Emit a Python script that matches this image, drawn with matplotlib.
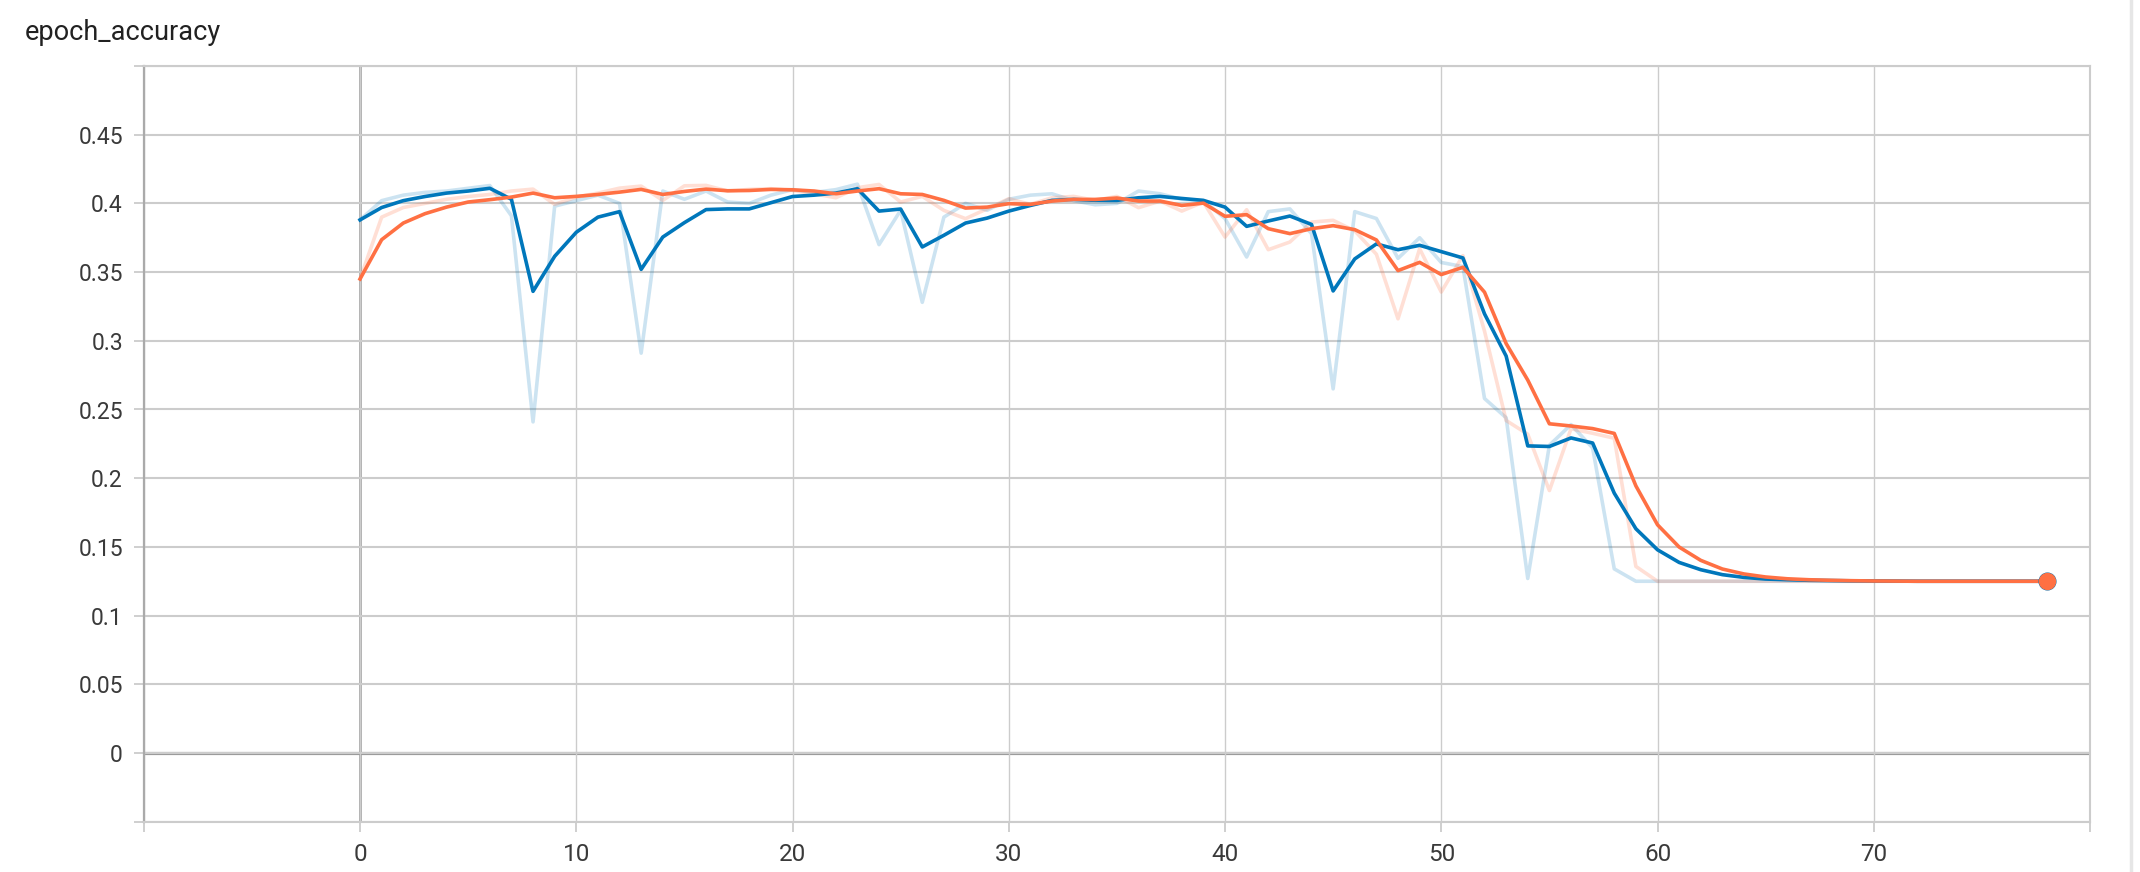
import matplotlib
matplotlib.use("Agg")
import matplotlib.pyplot as plt
from matplotlib.lines import Line2D
from matplotlib.patches import Circle

steps = list(range(79))

blue_raw = [0.388, 0.402, 0.406, 0.408, 0.409, 0.411, 0.413, 0.391, 0.241, 0.398,
            0.402, 0.406, 0.400, 0.291, 0.409, 0.403, 0.409, 0.401, 0.400, 0.406,
            0.410, 0.408, 0.410, 0.414, 0.370, 0.395, 0.328, 0.390, 0.400, 0.395,
            0.403, 0.406, 0.407, 0.402, 0.399, 0.400, 0.409, 0.407, 0.403, 0.402,
            0.389, 0.361, 0.394, 0.396, 0.378, 0.265, 0.394, 0.389, 0.360, 0.375,
            0.357, 0.354, 0.258, 0.244, 0.127, 0.224, 0.239, 0.222, 0.134, 0.125,
            0.125, 0.125, 0.125, 0.125, 0.125, 0.125, 0.125, 0.125, 0.125, 0.125,
            0.125, 0.125, 0.125, 0.125, 0.125, 0.125, 0.125, 0.125, 0.125]

blue_smooth = [0.388, 0.397, 0.402, 0.405, 0.4075, 0.409, 0.411, 0.403, 0.336, 0.3615,
               0.379, 0.390, 0.394, 0.352, 0.3755, 0.386, 0.3955, 0.396, 0.396, 0.4005,
               0.405, 0.406, 0.4075, 0.4107, 0.3944, 0.3959, 0.3683, 0.3768, 0.3857, 0.3893,
               0.3944, 0.3985, 0.4022, 0.4029, 0.4022, 0.4022, 0.4041, 0.4051, 0.4036, 0.4022,
               0.3973, 0.3833, 0.3872, 0.3908, 0.3847, 0.3363, 0.3596, 0.3705, 0.3663, 0.3695,
               0.3649, 0.3603, 0.3196, 0.2889, 0.2235, 0.2231, 0.2293, 0.2256, 0.1891, 0.1632,
               0.1479, 0.1387, 0.1334, 0.1298, 0.1278, 0.1266, 0.1261, 0.1257, 0.1255, 0.1253,
               0.1252, 0.1251, 0.125, 0.125, 0.125, 0.125, 0.125, 0.125, 0.125]

orange_raw = [0.345, 0.390, 0.397, 0.400, 0.403, 0.405, 0.4065, 0.409, 0.4104, 0.3993,
              0.4046, 0.4075, 0.4111, 0.4126, 0.4022, 0.4128, 0.4131, 0.409, 0.4102, 0.4107,
              0.4094, 0.407, 0.4041, 0.4114, 0.4138, 0.401, 0.4051, 0.3949, 0.3889, 0.3961,
              0.4034, 0.3993, 0.4041, 0.4051, 0.4022, 0.4051, 0.3969, 0.4017, 0.3944, 0.401,
              0.3755, 0.3954, 0.3663, 0.3719, 0.3864, 0.3877, 0.380, 0.363, 0.316, 0.367,
              0.3355, 0.362, 0.307, 0.242, 0.232, 0.191, 0.236, 0.2327, 0.2291, 0.1358,
              0.125, 0.125, 0.125, 0.125, 0.125, 0.125, 0.125, 0.125, 0.125, 0.125,
              0.125, 0.125, 0.125, 0.125, 0.125, 0.125, 0.125, 0.125, 0.125]

orange_smooth = [0.345, 0.3736, 0.3857, 0.3925, 0.3973, 0.401, 0.4027, 0.4046, 0.4075, 0.4041,
                 0.4051, 0.4065, 0.4082, 0.4102, 0.4065, 0.4087, 0.4104, 0.4092, 0.4094, 0.4102,
                 0.4099, 0.409, 0.407, 0.409, 0.4107, 0.407, 0.4065, 0.4022, 0.3966, 0.3973,
                 0.3998, 0.3993, 0.4017, 0.4029, 0.4029, 0.4039, 0.4017, 0.4017, 0.3985, 0.4002,
                 0.3906, 0.3918, 0.3816, 0.378, 0.3816, 0.3838, 0.3809, 0.3734, 0.3511, 0.3571,
                 0.3482, 0.3535, 0.3354, 0.298, 0.2714, 0.2396, 0.238, 0.2361, 0.2326, 0.1944,
                 0.1661, 0.1499, 0.1402, 0.1339, 0.1303, 0.1281, 0.1268, 0.1261, 0.1257, 0.1254,
                 0.1252, 0.1251, 0.125, 0.125, 0.125, 0.125, 0.125, 0.125, 0.125]

x_ticks = [-10, 0, 10, 20, 30, 40, 50, 60, 70, 80]
x_labels = ["", "0", "10", "20", "30", "40", "50", "60", "70", ""]
y_ticks = [-0.05, 0, 0.05, 0.1, 0.15, 0.2, 0.25, 0.3, 0.35, 0.4, 0.45, 0.5]
y_labels = ["", "0", "0.05", "0.1", "0.15", "0.2", "0.25", "0.3", "0.35", "0.4", "0.45", ""]

title = "epoch_accuracy"

BLUE = "#0077bb"
ORANGE = "#ff7043"

plt.rcParams["font.family"] = ["Roboto", "DejaVu Sans"]

W, H = 2140, 872
fig = plt.figure(figsize=(W / 100, H / 100), dpi=100)
fig.patch.set_facecolor("white")

left, right, top, bottom = 143.8, 2090, 66, 821.7
ax = fig.add_axes([left / W, 1 - bottom / H, (right - left) / W, (bottom - top) / H])

ax.set_xlim(-10, 80)
ax.set_ylim(-0.05, 0.5)

ax.set_xticks(x_ticks)
ax.set_xticklabels(x_labels)
ax.set_yticks(y_ticks)
ax.set_yticklabels(y_labels)

grid_c = "#cccccc"
ax.grid(True, axis="y", color=grid_c, lw=1.5, zorder=0)
ax.grid(True, axis="x", color=grid_c, lw=1.0, zorder=0)
ax.axhline(0, color="#999999", lw=2.3, zorder=1)
ax.axvline(0, color="#969696", lw=1.8, zorder=1)

for s in ["top", "bottom", "right"]:
    ax.spines[s].set_color(grid_c)
    ax.spines[s].set_linewidth(1.5)
ax.spines["left"].set_color("#aaaaaa")
ax.spines["left"].set_linewidth(1.6)

ax.tick_params(axis="x", length=7, width=1.3, color=grid_c, pad=8,
               labelsize=17.5, labelcolor="#3a3a3a")
ax.tick_params(axis="y", length=7, width=1.3, color=grid_c, pad=8,
               labelsize=16.5, labelcolor="#3a3a3a")

lw = 2.6
ax.plot(steps, blue_raw, color=BLUE, alpha=0.2, lw=lw, zorder=2)
ax.plot(steps, orange_raw, color=ORANGE, alpha=0.22, lw=lw, zorder=2)
ax.plot(steps, blue_smooth, color=BLUE, lw=lw, zorder=3)
ax.plot(steps, orange_smooth, color=ORANGE, lw=lw, zorder=4)
ax.plot([steps[-1]], [blue_smooth[-1]], "o", color=BLUE, ms=12, zorder=5)
ax.plot([steps[-1]], [orange_smooth[-1]], "o", color=ORANGE, ms=11.5, zorder=6)

fig.text(24.5 / W, 1 - 32 / H, title, fontsize=19.5, color="#212121",
         ha="left", va="center")

# UI decorations: scrollbar border and partial button
fig.add_artist(Line2D([2131 / W, 2131 / W], [0, 1], color="#e6e6e6", lw=2.5,
                      transform=fig.transFigure))
fig.add_artist(Circle((54.5 / W, 1 - 887 / H), 21 / W, transform=fig.transFigure,
                      color="#e4e4e4", zorder=0))

fig.savefig("out.png", dpi=100, facecolor="white")
